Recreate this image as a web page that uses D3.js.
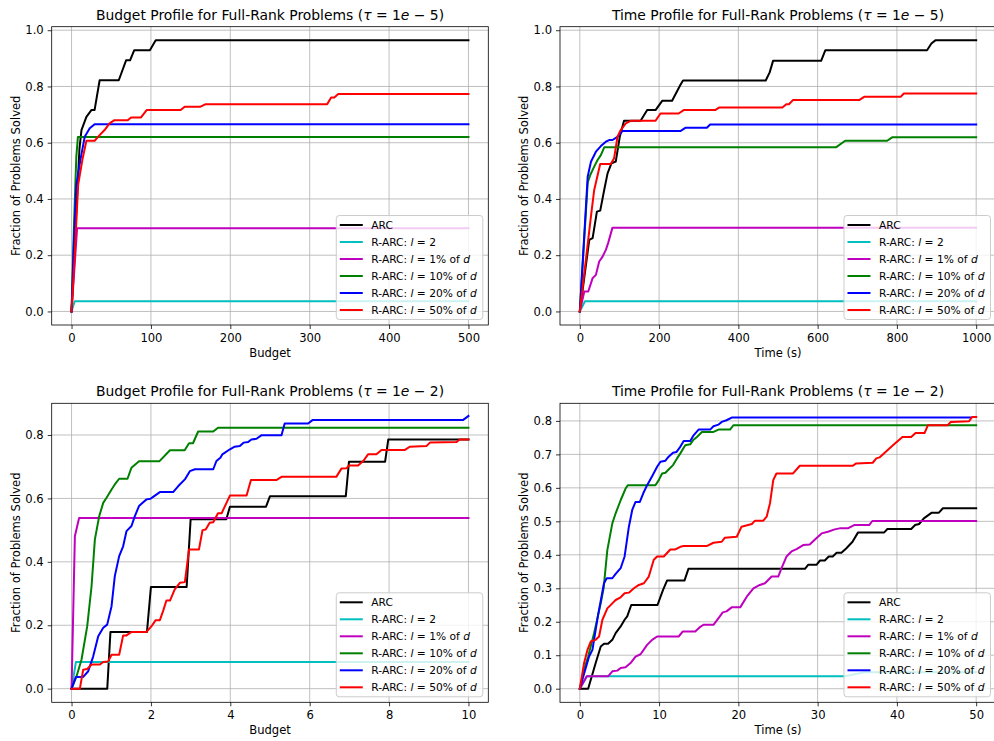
<!DOCTYPE html>
<html><head><meta charset="utf-8">
<script src="https://cdn.jsdelivr.net/npm/d3@7"></script>
<style>
body{margin:0;background:#fff}
svg{display:block}
text{font-family:"DejaVu Sans",sans-serif;white-space:pre}
</style>
</head><body>
<svg id="c" width="994" height="741"></svg>
<script>
// ---------- series metadata ----------
const seriesLabels = ["ARC", "R-ARC: $l = 2$", "R-ARC: $l = 1\\%$ of $d$", "R-ARC: $l = 10\\%$ of $d$", "R-ARC: $l = 20\\%$ of $d$", "R-ARC: $l = 50\\%$ of $d$"];
const seriesColors = ["#000000", "#00bfbf", "#bf00bf", "#008000", "#0000ff", "#ff0000"];

// ---------- titles / labels ----------
const titles = [
  "Budget Profile for Full-Rank Problems ($\\tau = 1e - 5$)",
  "Time Profile for Full-Rank Problems ($\\tau = 1e - 5$)",
  "Budget Profile for Full-Rank Problems ($\\tau = 1e - 2$)",
  "Time Profile for Full-Rank Problems ($\\tau = 1e - 2$)"
];
const xLabels = ["Budget", "Time (s)", "Budget", "Time (s)"];
const yLabel = "Fraction of Problems Solved";

// ---------- tick values ----------
const xTicksBudget5 = [0, 100, 200, 300, 400, 500];
const xTicksTime5 = [0, 200, 400, 600, 800, 1000];
const xTicksBudget2 = [0, 2, 4, 6, 8, 10];
const xTicksTime2 = [0, 10, 20, 30, 40, 50];
const yTicksTop = [0.0, 0.2, 0.4, 0.6, 0.8, 1.0];
const yTicksBudget2 = [0.0, 0.2, 0.4, 0.6, 0.8];
const yTicksTime2 = [0.0, 0.1, 0.2, 0.3, 0.4, 0.5, 0.6, 0.7, 0.8];

// ---------- Budget profile, tau = 1e-5 ----------
const b5_arc = [[0,0],[5,0.3],[10,0.58],[12.5,0.645],[18.7,0.692],[25,0.716],[29,0.716],[35.4,0.822],[59.5,0.822],[68.7,0.893],[73.7,0.893],[79,0.929],[98.7,0.929],[106,0.964],[500,0.964]];
const b5_l2 = [[0,0],[4,0.036],[500,0.036]];
const b5_p1 = [[0,0],[7,0.296],[500,0.296]];
const b5_p10 = [[0,0],[3,0.3],[6,0.55],[8,0.62],[500,0.62]];
const b5_p20 = [[0,0],[3,0.25],[6,0.45],[11.2,0.54],[16.6,0.621],[22.9,0.651],[29.1,0.666],[500,0.666]];
const b5_p50 = [[0,0],[4,0.2],[8.3,0.45],[13.7,0.54],[18.7,0.607],[29.1,0.607],[35.4,0.627],[41.6,0.645],[47.9,0.669],[54.1,0.68],[70.8,0.68],[75,0.69],[87.5,0.69],[94.6,0.716],[137.5,0.716],[142.5,0.728],[162.5,0.728],[169,0.737],[322,0.737],[327,0.761],[331,0.761],[336,0.773],[500,0.773]];

// ---------- Time profile, tau = 1e-5 ----------
const t5_arc = [[0,0],[23.8,0.2545],[32.3,0.2605],[43.1,0.355],[51.5,0.3585],[61.5,0.432],[70,0.491],[80,0.527],[90.7,0.533],[100.8,0.621],[111.5,0.678],[153.4,0.678],[170,0.716],[191,0.716],[207.8,0.749],[232.8,0.749],[253.6,0.805],[260.4,0.821],[469,0.821],[479,0.85],[487.5,0.891],[608.8,0.891],[619.5,0.929],[876,0.929],[887,0.953],[897,0.964],[1000,0.964]];
const t5_l2 = [[0,0],[13,0.036],[1000,0.036]];
const t5_p1 = [[0,0],[11.3,0.071],[21.3,0.071],[32.3,0.1185],[40.6,0.13],[48.9,0.1775],[57.4,0.195],[65.7,0.219],[71.4,0.243],[82.4,0.298],[1000,0.298]];
const t5_p10 = [[0,0],[20,0.46],[26.3,0.485],[36.3,0.515],[44.8,0.5385],[53.1,0.556],[61.5,0.5835],[646.2,0.5835],[669.5,0.607],[775.5,0.607],[788,0.619],[1000,0.619]];
const t5_p20 = [[0,0],[19.8,0.479],[28.1,0.5325],[40.6,0.568],[53.1,0.588],[65.7,0.6035],[74,0.6095],[82.4,0.6095],[95,0.621],[107.5,0.6415],[253.6,0.6415],[266.2,0.653],[320.5,0.653],[328.8,0.665],[1000,0.665]];
const t5_p50 = [[0,0],[28,0.337],[36.3,0.432],[51.4,0.524],[78.2,0.524],[86.5,0.545],[95,0.621],[103.3,0.645],[115.8,0.669],[128.3,0.678],[191,0.678],[203.5,0.704],[249.4,0.704],[262,0.716],[341.4,0.716],[352.2,0.7255],[511,0.7255],[521,0.737],[527.6,0.737],[537.6,0.7515],[704.8,0.7515],[717.3,0.763],[809.3,0.763],[817.5,0.775],[1000,0.775]];

// ---------- Budget profile, tau = 1e-2 ----------
const b2_arc = [[0,0],[0.9,0],[0.98,0.179],[1.9,0.179],[2.0,0.321],[2.9,0.321],[3.0,0.534],[3.9,0.534],[3.99,0.574],[4.9,0.574],[5.0,0.607],[6.91,0.607],[6.99,0.716],[7.9,0.716],[7.98,0.786],[10,0.786]];
const b2_l2 = [[0,0],[0.11,0.084],[10,0.084]];
const b2_p1 = [[0,0],[0.084,0.481],[0.19,0.538],[10,0.538]];
const b2_p10 = [[0,0],[0.126,0.039],[0.252,0.092],[0.395,0.197],[0.504,0.323],[0.588,0.471],[0.697,0.544],[0.798,0.586],[0.882,0.602],[1.008,0.628],[1.09,0.644],[1.2,0.662],[1.41,0.662],[1.51,0.697],[1.70,0.717],[2.21,0.717],[2.48,0.752],[2.85,0.752],[2.96,0.774],[3.06,0.774],[3.19,0.811],[3.57,0.811],[3.69,0.823],[10,0.823]];
const b2_p20 = [[0,0],[0.109,0.037],[0.294,0.037],[0.42,0.055],[0.546,0.102],[0.672,0.165],[0.798,0.192],[0.898,0.202],[1.008,0.26],[1.09,0.355],[1.2,0.418],[1.30,0.449],[1.385,0.497],[1.51,0.513],[1.595,0.544],[1.70,0.576],[1.805,0.588],[1.89,0.597],[1.99,0.599],[2.10,0.609],[2.225,0.62],[2.56,0.62],[2.69,0.639],[2.855,0.66],[2.98,0.686],[3.11,0.692],[3.57,0.692],[3.65,0.718],[3.75,0.728],[3.80,0.739],[3.99,0.755],[4.11,0.763],[4.24,0.765],[4.34,0.776],[4.45,0.778],[4.53,0.786],[4.66,0.788],[4.78,0.799],[5.29,0.799],[5.37,0.836],[5.96,0.836],[6.07,0.847],[9.86,0.847],[10,0.86]];
const b2_p50 = [[0,0],[0.21,0],[0.294,0.06],[0.395,0.062],[0.504,0.076],[0.714,0.076],[0.798,0.084],[0.924,0.086],[1.008,0.107],[1.2,0.107],[1.30,0.168],[1.385,0.168],[1.51,0.179],[1.89,0.179],[2.015,0.197],[2.12,0.216],[2.225,0.216],[2.31,0.246],[2.39,0.278],[2.48,0.278],[2.60,0.313],[2.73,0.334],[2.855,0.336],[2.96,0.439],[3.21,0.439],[3.30,0.5],[3.38,0.502],[3.48,0.523],[3.57,0.525],[3.69,0.553],[3.78,0.553],[3.99,0.609],[4.41,0.609],[4.52,0.658],[5.16,0.658],[5.29,0.668],[6.67,0.668],[6.80,0.694],[6.93,0.695],[6.99,0.704],[7.22,0.704],[7.35,0.718],[7.47,0.739],[7.68,0.739],[7.81,0.753],[8.40,0.753],[8.52,0.763],[8.94,0.765],[9.03,0.776],[9.70,0.778],[9.78,0.786],[10,0.786]];

// ---------- Time profile, tau = 1e-2 ----------
const t2_arc = [[0,0],[1.05,0],[2.0,0.077],[2.64,0.126],[3.05,0.134],[3.56,0.134],[4.1,0.146],[4.52,0.166],[5.15,0.186],[5.65,0.206],[5.98,0.216],[6.49,0.25],[9.8,0.25],[10.5,0.295],[11.0,0.323],[13.2,0.323],[13.7,0.358],[28.4,0.358],[28.8,0.37],[29.85,0.37],[30.3,0.383],[30.9,0.383],[31.4,0.395],[31.9,0.395],[32.4,0.406],[33.0,0.406],[33.6,0.419],[34.4,0.439],[35.1,0.467],[38.4,0.467],[38.8,0.477],[41.8,0.477],[42.3,0.489],[42.8,0.492],[43.4,0.509],[44.4,0.526],[45.3,0.526],[45.8,0.539],[50,0.539]];
const t2_l2 = [[0,0],[0.9,0.037],[33.4,0.037],[35.9,0.049],[50,0.049]];
const t2_p1 = [[0,0],[0.88,0.037],[3.56,0.037],[4.1,0.052],[4.73,0.054],[5.15,0.062],[5.77,0.064],[6.4,0.0765],[7.03,0.096],[7.66,0.103],[8.49,0.131],[9.12,0.146],[9.75,0.156],[12.47,0.156],[13.0,0.171],[14.56,0.171],[15.1,0.183],[15.6,0.191],[16.86,0.191],[17.5,0.211],[18.03,0.228],[18.5,0.231],[19.16,0.243],[20.23,0.243],[21.06,0.275],[21.9,0.30],[22.7,0.31],[23.36,0.315],[24.2,0.335],[25.03,0.335],[25.45,0.36],[26.08,0.395],[26.7,0.41],[27.34,0.417],[28.17,0.429],[29.0,0.431],[29.8,0.449],[30.5,0.464],[31.3,0.469],[32.15,0.476],[32.77,0.479],[33.8,0.479],[34.6,0.489],[36.5,0.489],[36.9,0.501],[50,0.501]];
const t2_p10 = [[0,0],[0.54,0.057],[1.05,0.096],[1.8,0.166],[2.64,0.255],[3.0,0.3],[3.47,0.414],[4.1,0.494],[4.52,0.524],[5.15,0.563],[5.77,0.598],[6.07,0.608],[9.54,0.608],[9.96,0.623],[10.38,0.643],[10.8,0.645],[11.2,0.655],[11.76,0.668],[12.26,0.688],[12.68,0.703],[13.3,0.727],[13.93,0.73],[14.27,0.742],[14.77,0.752],[15.4,0.767],[16.86,0.767],[17.5,0.774],[18.95,0.774],[19.37,0.787],[50,0.787]];
const t2_p20 = [[0,0],[0.6,0.05],[1.17,0.096],[1.59,0.116],[2.3,0.22],[3.05,0.315],[3.39,0.33],[4.1,0.33],[4.52,0.343],[5.15,0.36],[5.65,0.395],[6.19,0.484],[6.61,0.534],[7.03,0.558],[7.57,0.558],[7.99,0.583],[8.49,0.608],[9.12,0.635],[9.75,0.663],[10.17,0.678],[10.8,0.681],[11.2,0.693],[11.76,0.705],[12.18,0.707],[12.6,0.72],[13.1,0.74],[13.93,0.74],[14.35,0.757],[14.98,0.774],[16.44,0.774],[16.86,0.784],[17.5,0.789],[17.9,0.797],[18.5,0.802],[19.16,0.81],[49.3,0.81]];
const t2_p50 = [[0,0],[0.54,0.077],[0.96,0.116],[1.38,0.141],[2.0,0.146],[2.43,0.156],[2.85,0.206],[3.47,0.24],[4.1,0.255],[4.52,0.265],[5.15,0.273],[5.65,0.285],[6.19,0.287],[6.82,0.3],[7.45,0.31],[8.08,0.315],[8.7,0.335],[9.33,0.385],[9.75,0.395],[10.59,0.395],[11.42,0.416],[12.05,0.416],[12.68,0.424],[13.1,0.426],[16.0,0.426],[16.86,0.436],[17.9,0.439],[18.3,0.451],[19.8,0.454],[20.4,0.484],[21.7,0.492],[22.1,0.502],[23.15,0.502],[23.57,0.514],[23.99,0.554],[24.4,0.623],[24.8,0.643],[26.9,0.643],[27.75,0.666],[34.44,0.666],[34.86,0.673],[36.95,0.675],[37.4,0.688],[37.8,0.691],[38.6,0.708],[39.5,0.727],[40.7,0.752],[41.8,0.752],[42.35,0.764],[43.5,0.764],[43.9,0.787],[46.4,0.787],[46.8,0.797],[49.1,0.799],[49.5,0.812],[50,0.812]];

// ---------- helpers ----------
const svg = d3.select("#c");
const FS = 11.57, TFS = 13.9;

function mathRuns(str){
  const parts = str.split("$"), runs = [];
  parts.forEach((p, i) => {
    if (i % 2 === 0) { if (p) runs.push({t: p, it: false}); }
    else {
      const s = p.replace(/\\tau/g, "τ").replace(/\\%/g, "%").replace(/-/g, "−");
      const re = /([A-Za-zτ]+)|([^A-Za-zτ]+)/g; let m;
      while ((m = re.exec(s))) runs.push({t: m[0], it: !!m[1]});
    }
  });
  return runs;
}
function richText(sel, str){
  mathRuns(str).forEach(r => {
    const ts = sel.append("tspan").text(r.t);
    if (r.it) ts.attr("font-style", "italic");
  });
  return sel;
}

function panel(cfg, idx){
  const g = svg.append("g").attr("transform", `translate(${cfg.left},${cfg.top})`);
  const x = d3.scaleLinear().domain(cfg.xDomain).range([0, cfg.w]);
  const y = d3.scaleLinear().domain(cfg.yDomain).range([cfg.h, 0]);

  const clipId = "clip" + idx;
  g.append("clipPath").attr("id", clipId).append("rect").attr("width", cfg.w).attr("height", cfg.h);

  // grid
  const grid = g.append("g").attr("stroke", "#b0b0b0").attr("stroke-width", 0.8);
  grid.selectAll(".gx").data(cfg.xTicks).join("line")
    .attr("x1", d => x(d)).attr("x2", d => x(d)).attr("y1", 0).attr("y2", cfg.h);
  grid.selectAll(".gy").data(cfg.yTicks).join("line")
    .attr("y1", d => y(d)).attr("y2", d => y(d)).attr("x1", 0).attr("x2", cfg.w);

  // lines
  const line = d3.line().x(d => x(d[0])).y(d => y(d[1]));
  const lg = g.append("g").attr("clip-path", `url(#${clipId})`);
  cfg.series.forEach((s, i) => {
    lg.append("path").attr("d", line(s)).attr("fill", "none")
      .attr("stroke", seriesColors[i]).attr("stroke-width", 2)
      .attr("stroke-linejoin", "round").attr("stroke-linecap", "square");
  });

  // spines
  g.append("rect").attr("width", cfg.w).attr("height", cfg.h)
    .attr("fill", "none").attr("stroke", "#000").attr("stroke-width", 0.8);

  // axes
  const xa = g.append("g").attr("transform", `translate(0,${cfg.h})`)
    .call(d3.axisBottom(x).tickValues(cfg.xTicks).tickSize(4).tickPadding(4.5).tickFormat(d3.format("d")));
  const ya = g.append("g")
    .call(d3.axisLeft(y).tickValues(cfg.yTicks).tickSize(4).tickPadding(4).tickFormat(d3.format(".1f")));
  [xa, ya].forEach(a => {
    a.select(".domain").remove();
    a.attr("font-size", FS).attr("font-family", "DejaVu Sans");
    a.selectAll("line").attr("stroke", "#000").attr("stroke-width", 0.8);
    a.selectAll("text").attr("fill", "#000");
  });

  // title & labels
  richText(g.append("text").attr("x", cfg.w / 2).attr("y", -7)
    .attr("text-anchor", "middle").attr("font-size", TFS), cfg.title);
  g.append("text").attr("x", cfg.w / 2).attr("y", cfg.h + 32)
    .attr("text-anchor", "middle").attr("font-size", FS).text(cfg.xlabel);
  g.append("text").attr("transform", `translate(-36,${cfg.h / 2}) rotate(-90)`)
    .attr("text-anchor", "middle").attr("dy", "0.36em").attr("font-size", FS).text(yLabel);

  // legend
  const leg = g.append("g");
  const box = leg.append("rect");
  const texts = seriesLabels.map((lab, i) =>
    richText(leg.append("text").attr("font-size", FS).attr("dy", "0.36em"), lab));
  let maxLen = d3.max(texts, t => t.node().getComputedTextLength());
  const targetLen = 105.6;
  const lfs = FS * Math.min(1, targetLen / maxLen);
  texts.forEach(t => t.attr("font-size", lfs));
  maxLen = d3.max(texts, t => t.node().getComputedTextLength());
  const lgW = 35 + maxLen + 6, lgH = 104;
  const lx = cfg.w - 5.5 - lgW, ly = cfg.h - 5.5 - lgH;
  box.attr("x", lx).attr("y", ly).attr("width", lgW).attr("height", lgH).attr("rx", 3)
    .attr("fill", "#fff").attr("fill-opacity", 0.8).attr("stroke", "#cccccc").attr("stroke-width", 1);
  texts.forEach((t, i) => {
    const cy = ly + 9.5 + i * 17;
    t.attr("x", lx + 35).attr("y", cy);
    leg.append("line").attr("x1", lx + 3.5).attr("x2", lx + 26.5).attr("y1", cy).attr("y2", cy)
      .attr("stroke", seriesColors[i]).attr("stroke-width", 2);
  });
}

const panels = [
  {left: 51.7, top: 26.7, w: 436.6, h: 298.3, xDomain: [-25, 525], yDomain: [-0.0482, 1.0125],
   xTicks: xTicksBudget5, yTicks: yTicksTop, title: titles[0], xlabel: xLabels[0],
   series: [b5_arc, b5_l2, b5_p1, b5_p10, b5_p20, b5_p50]},
  {left: 560, top: 26.7, w: 436, h: 298.3, xDomain: [-50, 1050], yDomain: [-0.0482, 1.0125],
   xTicks: xTicksTime5, yTicks: yTicksTop, title: titles[1], xlabel: xLabels[1],
   series: [t5_arc, t5_l2, t5_p1, t5_p10, t5_p20, t5_p50]},
  {left: 51.7, top: 403.3, w: 436.6, h: 299, xDomain: [-0.5, 10.5], yDomain: [-0.043, 0.9],
   xTicks: xTicksBudget2, yTicks: yTicksBudget2, title: titles[2], xlabel: xLabels[2],
   series: [b2_arc, b2_l2, b2_p1, b2_p10, b2_p20, b2_p50]},
  {left: 560, top: 403.3, w: 436, h: 299, xDomain: [-2.5, 52.5], yDomain: [-0.0406, 0.8526],
   xTicks: xTicksTime2, yTicks: yTicksTime2, title: titles[3], xlabel: xLabels[3],
   series: [t2_arc, t2_l2, t2_p1, t2_p10, t2_p20, t2_p50]}
];
panels.forEach(panel);
</script>
</body></html>
